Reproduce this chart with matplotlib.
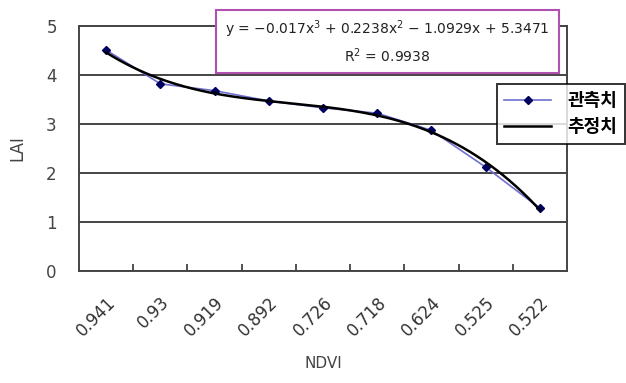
import matplotlib
matplotlib.use('Agg')
import matplotlib.pyplot as plt
import matplotlib.transforms as mtransforms
import numpy as np
from matplotlib.patches import Rectangle

plt.rcParams['font.family'] = ['DejaVu Sans', 'Noto Sans CJK KR']

ndvi_labels = ['0.941', '0.93', '0.919', '0.892', '0.726', '0.718', '0.624', '0.525', '0.522']
lai_observed = [4.51, 3.82, 3.68, 3.47, 3.33, 3.22, 2.87, 2.12, 1.28]
# trendline coefficients as printed on the chart (x = category index 1..9)
fit_coef = [-0.017, 0.2238, -1.0929, 5.3471]

x = np.arange(1, len(ndvi_labels) + 1)
xs = np.linspace(1, len(ndvi_labels), 200)
ys = np.polyval(fit_coef, xs)

fig = plt.figure(figsize=(6.26, 3.83), dpi=100)
ax = fig.add_axes([79 / 626, 1 - 271 / 383, (567 - 79) / 626, (271 - 26) / 383])

ax.plot(x, lai_observed, color='#7070d0', linewidth=1.2, marker='D',
        markersize=4.5, markerfacecolor='#000060', markeredgecolor='#000060',
        label='관측치', zorder=3)
ax.plot(xs, ys, color='black', linewidth=1.8, label='추정치', zorder=4)

ax.set_xlim(0.5, len(ndvi_labels) + 0.5)
ax.set_ylim(0, 5)
ax.set_yticks([0, 1, 2, 3, 4, 5])
ax.yaxis.grid(True, color='#444444', linewidth=1.4)
ax.set_axisbelow(True)

ax.set_xticks(x)
ax.set_xticklabels(ndvi_labels, rotation=45, ha='right', va='top',
                   rotation_mode='anchor', fontsize=12, color='#333333')
shift = mtransforms.ScaledTranslation(-12 / 100, 0, fig.dpi_scale_trans)
for lab in ax.get_xticklabels():
    lab.set_transform(lab.get_transform() + shift)
ax.set_xticks(np.arange(1.5, len(ndvi_labels)), minor=True)
ax.tick_params(axis='x', which='major', length=0, pad=16)
ax.tick_params(axis='x', which='minor', direction='in', length=5, width=1.2, color='#333333')
ax.tick_params(axis='y', length=0, pad=16, labelsize=12, labelcolor='#444444')

for s in ax.spines.values():
    s.set_color('#444444')
    s.set_linewidth(1.4)

ax.set_xlabel('NDVI', fontsize=11, color='#444444', labelpad=12)
ax.set_ylabel('LAI', fontsize=12, color='#444444', labelpad=14)

# equation box
box = Rectangle((216 / 626, 1 - 73 / 383), (559 - 216) / 626, (73 - 10) / 383,
                transform=fig.transFigure, facecolor='white', edgecolor='#b050b0',
                linewidth=1.5, zorder=10)
fig.patches.append(box)
fig.text(387 / 626, 1 - 29 / 383,
         'y = −0.017x$^3$ + 0.2238x$^2$ − 1.0929x + 5.3471',
         ha='center', va='center', fontsize=10, color='#222222', zorder=11)
fig.text(387 / 626, 1 - 56 / 383, 'R$^2$ = 0.9938',
         ha='center', va='center', fontsize=10, color='#222222', zorder=11)

leg = fig.legend(loc='upper left', bbox_to_anchor=(497 / 626, 1 - 84 / 383),
                 frameon=True, fancybox=False, edgecolor='black',
                 prop={'family': ['Noto Sans CJK KR'], 'weight': 'bold', 'size': 13},
                 handlelength=2.6, borderpad=0.4, labelspacing=0.4, handletextpad=0.9,
                 borderaxespad=0)
leg.get_frame().set_linewidth(1.4)

fig.savefig('out.png', dpi=100)
